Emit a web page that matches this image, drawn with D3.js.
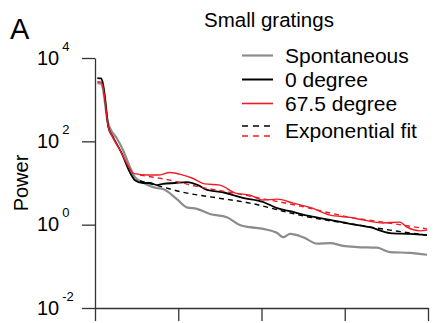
<!DOCTYPE html>
<html>
<head>
<meta charset="utf-8">
<script src="https://cdn.jsdelivr.net/npm/d3@7"></script>
<style>
  html, body { margin: 0; padding: 0; background: #fff; }
  svg { display: block; font-family: "Liberation Sans", Arial, sans-serif; }
</style>
</head>
<body>
<svg id="chart" width="441" height="323"></svg>
<script>
// Power spectra (component index, power)
const spontaneous = [[0.7,2500],[1.8,2400],[2.4,1800],[3.0,830],[3.6,360],[4.5,210],[6.5,120],[8.4,62],[10.5,24],[12.0,13.8],[14.0,10.7],[16.5,8.5],[18.5,7.6],[20.4,7.2],[24.6,4.1],[27.6,2.6],[30.6,2.4],[34.5,1.8],[39.6,1.5],[43.5,0.98],[46.5,0.87],[50.5,0.79],[54.7,0.63],[56.5,0.50],[58.6,0.60],[62.5,0.50],[66.7,0.35],[70.6,0.36],[74.5,0.31],[78.7,0.29],[84.7,0.28],[88.6,0.22],[94.6,0.21],[99.7,0.19]];
const degree0 = [[0.7,3300],[1.8,3240],[2.4,2400],[3.0,1150],[3.5,480],[4.0,219],[5.4,126],[8.0,52],[10.5,18],[12.0,11.7],[14.4,10],[16.5,10],[18.6,8.9],[20.4,9.5],[24.0,10],[27.6,10.5],[30.9,8.9],[33.6,6.8],[38.4,6.0],[44.4,4.4],[50.5,3.5],[54.7,2.5],[58.6,2.1],[64.6,1.6],[70.6,1.3],[76.6,1.05],[82.6,0.87],[88.6,0.63],[94.6,0.60],[99.7,0.56]];
const degree675 = [[0.7,2700],[1.8,2630],[2.4,2000],[3.0,970],[3.5,430],[4.0,219],[5.0,141],[7.5,62],[9.5,30],[11.4,17.4],[12.3,16.5],[15.6,15.5],[18.9,15.5],[22.5,17.8],[26.4,15.5],[29.1,13.2],[33.0,9.5],[37.5,8.9],[42.0,5.8],[46.5,5.1],[50.5,3.9],[54.7,4.1],[59.5,3.3],[64.6,2.6],[70.6,1.7],[76.6,1.5],[80.5,1.3],[86.5,1.1],[91.6,1.15],[93.7,0.87],[97.6,0.71],[99.7,0.74]];
const fit0 = [[13.5,11.2],[20.4,8.0],[26.4,6.0],[36.6,4.4],[46.5,3.3],[56.5,2.1],[64.6,1.5],[76.6,1.05],[88.6,0.74],[99.7,0.56]];
const fit675 = [[13.5,15.5],[22.5,11.7],[31.5,8.0],[41.4,5.8],[51.7,4.0],[61.6,2.8],[70.6,1.9],[76.6,1.5],[86.5,1.15],[99.7,0.79]];

const xTicks = [0, 25, 50, 75, 100];
const yTicks = [1e-2, 1e0, 1e2, 1e4];
const yExponents = ["-2", "0", "2", "4"];

const legendItems = [
  {label: "Spontaneous", color: "#8c8c8c", width: 2.2, dash: null},
  {label: "0 degree", color: "#000000", width: 2, dash: null},
  {label: "67.5 degree", color: "#ee1c25", width: 1.6, dash: null},
  {label: "Exponential fit", color: null, width: 1.6, dash: "6,5"}
];

const svg = d3.select("#chart");
const axisColor = "#333333";

const x = d3.scaleLinear().domain([0, 100]).range([95, 428]);
const y = d3.scaleLog().domain([1e-2, 1e4]).range([308, 58]);

// x axis: ticks only, no labels
svg.append("g")
  .attr("transform", `translate(0,${y(1e-2)})`)
  .call(d3.axisBottom(x).tickValues(xTicks).tickSize(13).tickSizeOuter(0).tickFormat(""))
  .call(g => g.selectAll("path, line").attr("stroke", axisColor).attr("stroke-width", 1.3));

// y axis with power-of-ten labels
const yAxis = svg.append("g")
  .attr("transform", `translate(${x(0)},0)`)
  .call(d3.axisLeft(y).tickValues(yTicks).tickSize(13).tickSizeOuter(0).tickFormat(""))
  .call(g => g.selectAll("path, line").attr("stroke", axisColor).attr("stroke-width", 1.3));

yAxis.selectAll(".tick").each(function(d, i) {
  const t = d3.select(this).append("text")
    .attr("x", -58).attr("y", 6).attr("fill", "#000")
    .attr("text-anchor", "start").attr("font-size", 20);
  t.append("tspan").text("10");
  t.append("tspan").attr("dx", 3).attr("dy", -14).attr("font-size", 13).text(yExponents[i]);
});

svg.append("text")
  .attr("transform", `translate(28,183) rotate(-90)`)
  .attr("text-anchor", "middle").attr("font-size", 20).text("Power");

// spectra
const line = d3.line().x(d => x(d[0])).y(d => y(d[1])).curve(d3.curveMonotoneX);

const series = [
  {data: spontaneous, color: "#8c8c8c", width: 2.2, dash: null},
  {data: degree0, color: "#000000", width: 1.8, dash: null},
  {data: degree675, color: "#ee1c25", width: 1.4, dash: null},
  {data: fit0, color: "#000000", width: 1.4, dash: "5,4"},
  {data: fit675, color: "#ee1c25", width: 1.4, dash: "5,4"}
];

svg.append("g").selectAll("path").data(series).join("path")
  .attr("d", s => line(s.data))
  .attr("fill", "none")
  .attr("stroke", s => s.color)
  .attr("stroke-width", s => s.width)
  .attr("stroke-dasharray", s => s.dash);

// panel letter and title
svg.append("text").attr("x", 10).attr("y", 39).attr("font-size", 29).text("A");
svg.append("text").attr("x", 204).attr("y", 27).attr("font-size", 20.5).text("Small gratings");

// legend
const lg = svg.append("g");
const rowY = [55.5, 79.5, 103.5, 127.5];
legendItems.forEach((item, i) => {
  const cy = rowY[i];
  if (item.dash) {
    lg.append("line").attr("x1", 242).attr("x2", 273).attr("y1", cy - 1.5).attr("y2", cy - 1.5)
      .attr("stroke", "#000").attr("stroke-width", item.width).attr("stroke-dasharray", item.dash);
    lg.append("line").attr("x1", 242).attr("x2", 273).attr("y1", cy + 8.5).attr("y2", cy + 8.5)
      .attr("stroke", "#ee1c25").attr("stroke-width", item.width).attr("stroke-dasharray", item.dash);
  } else {
    lg.append("line").attr("x1", 242).attr("x2", 273).attr("y1", cy).attr("y2", cy)
      .attr("stroke", item.color).attr("stroke-width", item.width);
  }
  lg.append("text").attr("x", 285).attr("y", cy + 7.5 + (item.dash ? 2.5 : 0))
    .attr("font-size", 21).text(item.label);
});
</script>
</body>
</html>
